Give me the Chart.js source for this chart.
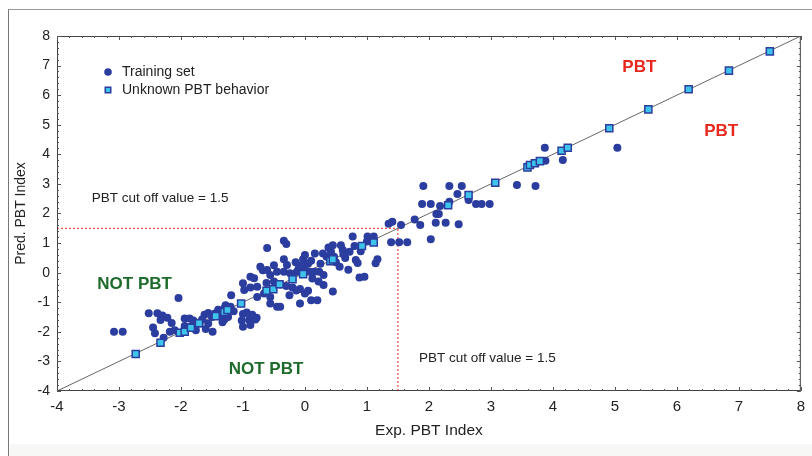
<!DOCTYPE html>
<html>
<head>
<meta charset="utf-8">
<script src="https://cdn.jsdelivr.net/npm/chart.js@4.4.1/dist/chart.umd.min.js"></script>
<style>
  html, body { margin: 0; padding: 0; background: #fff; }
  #wrap { position: relative; width: 812px; height: 456px; overflow: hidden; }
  #frame { position: absolute; left: 8px; top: 9px; right: -2px; bottom: -2px;
           border-left: 1.5px solid #777; border-top: 1.5px solid #9a9a9a; }
  #band { position: absolute; left: 10px; top: 444px; right: 0; bottom: 0; background: #f7f7f5; }
  canvas { position: absolute; left: 0; top: 0; }
</style>
</head>
<body>
<div id="wrap">
  <div id="frame"></div>
  <div id="band"></div>
  <canvas id="chart" width="812" height="456"></canvas>
</div>
<script>
// axis ticks
const xTicks = [-4, -3, -2, -1, 0, 1, 2, 3, 4, 5, 6, 7, 8];
const yTicks = [-4, -3, -2, -1, 0, 1, 2, 3, 4, 5, 6, 7, 8];
const cutoff = 1.5;

// training set (exp, pred)
const trainX = [-3.08, -2.94, -2.52, -2.38, -2.3, -2.33, -2.22, -2.45, -2.42, -2.28, -2.18, -2.1, -2.04,
  -1.94, -1.86, -1.8, -1.94, -1.84, -1.76, -1.62, -1.56, -1.5, -1.66, -1.7, -1.56, -1.49,
  -1.4, -1.45, -1.36, -1.3, -1.24, -1.33, -1.19, -1.2, -1.28, -1.0, -0.94, -0.88, -1.02, -0.9,
  -0.78, -1.0, -0.88, -0.88, -0.82, -1.0, -0.98, -0.88, -0.77, -0.77, -0.66, -0.56, -0.56,
  -0.45, -0.4, -0.61, -0.34, -0.3, -0.61, -0.56, -0.45, -0.34, -0.24, -0.13, -0.34, -0.29,
  -0.05, -0.2, -0.14, -0.08, 0.0, 0.05, -0.25, -0.08, 0.1, 0.2, 0.0, 0.07, 0.15, 0.23, 0.3,
  0.16, 0.29, 0.0, -0.03, 0.42, 0.35, 0.47, 0.45, 0.58, 0.61, 0.72, 0.56, 0.45, 0.77, 1.01,
  1.11, 0.82, 0.85, 1.17, 1.14, 0.88, 0.96, 1.35, 1.41, 1.55, 1.39, 1.52, 1.65, 1.77, 1.86,
  2.03, 1.91, 2.33, 2.53, 1.89, 2.03, 2.18, 2.33, 2.46, 2.12, 2.16, 2.11, 2.27, 2.48, 2.76,
  2.85, 2.98, 2.64, 3.42, 3.72, 3.87, 3.88, 4.16, 5.04,
  -0.72, -0.68, -0.5, -0.4, -0.3, 0.12, 0.22, 0.3, -0.85, -0.8, -1.3, -1.15, -0.5, 0.5, 0.65,
  0.9, -0.15, 0.1, 0.25, 0.7, -0.62, -2.15, -1.6, 0.62, 0.8, 1.0, 0.38, -0.1, 0.05];
const trainY = [-2.0, -2.0, -1.37, -1.37, -1.45, -1.6, -1.52, -1.85, -2.05, -2.2, -2.0, -1.95, -0.86,
  -1.55, -1.55, -1.62, -1.8, -1.82, -1.95, -1.42, -1.36, -1.5, -1.58, -1.72, -1.72, -2.0,
  -1.25, -1.38, -1.45, -1.58, -1.5, -1.68, -0.76, -1.15, -1.1, -1.4, -1.35, -1.47, -1.62, -1.6,
  -1.52, -1.83, -1.77, -0.14, -0.19, -0.36, -0.59, -0.5, -0.48, -0.82, -0.7, -0.82, -1.04,
  -1.15, -1.15, 0.83, 1.08, 0.97, 0.09, -0.08, 0.03, 0.03, -0.02, 0.03, 0.45, 0.26,
  0.26, -0.5, -0.6, -0.55, -0.7, -0.61, -0.76, -1.04, -0.93, -0.93, 0.09, 0.03, 0.03, 0.03, -0.08,
  0.65, 0.65, 0.6, 0.45, 0.71, 0.54, 0.54, 0.93, 0.93, 0.77, 0.71, 0.2, -0.64, 1.22, 1.22,
  1.22, 0.43, 0.33, 0.45, 0.32, -0.16, -0.14, 1.65, 1.72, 1.61, 1.03, 1.03, 1.03, 1.8, 1.61,
  1.13, 2.93, 2.93, 2.93, 2.32, 2.32, 2.25, 2.4, 2.66, 1.98, 1.98, 1.69, 1.69, 1.64, 2.32,
  2.32, 2.32, 2.46, 2.96, 2.93, 4.22, 3.78, 3.81, 4.22,
  0.2, 0.08, -0.3, -0.4, -0.45, -0.2, -0.3, -0.42, -1.42, -1.58, -1.2, -1.3, 0.25, 0.35, 0.5,
  0.72, 0.35, 0.4, 0.3, 0.1, -0.35, -1.7, -1.9, 0.62, 0.9, 1.05, 0.85, 0.15, 0.3];

// compounds with unknown PBT behaviour
const unknownX = [-2.73, -2.33, -2.02, -1.94, -1.84, -1.71, -1.44, -1.3, -1.25, -1.03, -0.62, -0.51,
  -0.41, -0.2, -0.03, 0.41, 0.45, 0.92, 1.11, 2.31, 2.64, 3.07, 3.59, 3.63, 3.71, 3.79, 4.14, 4.24,
  4.91, 5.54, 6.19, 6.84, 7.5];
const unknownY = [-2.75, -2.37, -2.03, -2.0, -1.86, -1.71, -1.47, -1.33, -1.26, -1.04, -0.61, -0.56,
  -0.39, -0.22, -0.05, 0.39, 0.45, 0.9, 1.02, 2.28, 2.62, 3.04, 3.56, 3.64, 3.7, 3.77, 4.12, 4.22,
  4.88, 5.52, 6.2, 6.83, 7.48];

const toPts = (xs, ys) => xs.map((x, i) => ({ x: x, y: ys[i] }));
const xMin = xTicks[0], xMax = xTicks[xTicks.length - 1];
const yMin = yTicks[0], yMax = yTicks[yTicks.length - 1];

const BLUE = "#2b3d9e";
const CYAN = "#3ec3ea";
const RED = "#e8281f";
const GREEN = "#1f6b2c";
const FONT = "'Liberation Sans', Arial, sans-serif";
const NARROW = "'Liberation Sans Narrow', 'Liberation Sans', Arial, sans-serif";

// labels placed in data coordinates
const notes = [
  { text: "PBT cut off value = 1.5", x: -3.44, y: 2.52, font: "13.5px " + FONT, color: "#222" },
  { text: "PBT cut off value = 1.5", x: 1.84, y: -2.89, font: "13.5px " + FONT, color: "#222" },
  { text: "NOT PBT", x: -3.35, y: -0.38, font: "bold 17px " + FONT, color: GREEN },
  { text: "NOT PBT", x: -1.23, y: -3.26, font: "bold 17px " + FONT, color: GREEN },
  { text: "PBT", x: 5.12, y: 6.95, font: "bold 17px " + FONT, color: RED },
  { text: "PBT", x: 6.44, y: 4.79, font: "bold 17px " + FONT, color: RED },
];

const decor = {
  id: "decor",
  afterDraw(chart) {
    const { ctx, chartArea: a, scales } = chart;
    const sx = scales.x, sy = scales.y;
    ctx.save();
    // axis box
    ctx.strokeStyle = "#444";
    ctx.lineWidth = 1;
    ctx.strokeRect(a.left + 0.5, a.top + 0.5, a.right - a.left - 1, a.bottom - a.top - 1);
    // inner ticks on all four sides
    ctx.strokeStyle = "#555";
    ctx.beginPath();
    for (let v = xMin; v <= xMax + 1e-9; v += 0.2) {
      const major = Math.abs(v - Math.round(v)) < 1e-6;
      const len = major ? 4 : 2;
      const px = Math.round(sx.getPixelForValue(v)) + 0.5;
      ctx.moveTo(px, a.bottom); ctx.lineTo(px, a.bottom - len);
      ctx.moveTo(px, a.top); ctx.lineTo(px, a.top + len);
    }
    for (let v = yMin; v <= yMax + 1e-9; v += 0.2) {
      const major = Math.abs(v - Math.round(v)) < 1e-6;
      const len = major ? 4 : 2;
      const py = Math.round(sy.getPixelForValue(v)) + 0.5;
      ctx.moveTo(a.left, py); ctx.lineTo(a.left + len, py);
      ctx.moveTo(a.right, py); ctx.lineTo(a.right - len, py);
    }
    ctx.stroke();
    // annotations
    ctx.textBaseline = "middle";
    ctx.textAlign = "left";
    notes.forEach(n => {
      ctx.font = n.font;
      ctx.fillStyle = n.color;
      ctx.fillText(n.text, sx.getPixelForValue(n.x), sy.getPixelForValue(n.y));
    });
    // legend
    ctx.font = "14px " + FONT;
    ctx.fillStyle = "#222";
    ctx.fillText("Training set", 122, 72);
    ctx.fillText("Unknown PBT behavior", 122, 90);
    ctx.fillStyle = BLUE;
    ctx.beginPath(); ctx.arc(108, 72, 3.8, 0, Math.PI * 2); ctx.fill();
    ctx.fillRect(104.5, 86.5, 7, 7);
    ctx.fillStyle = CYAN;
    ctx.fillRect(106, 88, 4, 4);
    ctx.restore();
  }
};

new Chart(document.getElementById("chart"), {
  type: "scatter",
  data: {
    datasets: [
      {
        label: "Unknown PBT behavior",
        data: toPts(unknownX, unknownY),
        pointStyle: "rect",
        pointRadius: 5,
        backgroundColor: CYAN,
        borderColor: BLUE,
        borderWidth: 1.5,
        order: 1,
      },
      {
        label: "Training set",
        data: toPts(trainX, trainY),
        pointStyle: "circle",
        pointRadius: 4,
        backgroundColor: BLUE,
        borderColor: BLUE,
        borderWidth: 0,
        order: 2,
      },
      {
        label: "y = x",
        type: "line",
        data: [{ x: xMin, y: yMin }, { x: xMax, y: yMax }],
        borderColor: "#666",
        borderWidth: 1,
        pointRadius: 0,
        order: 3,
      },
      {
        label: "cutoff h",
        type: "line",
        data: [{ x: xMin, y: cutoff }, { x: cutoff, y: cutoff }],
        borderColor: RED,
        borderWidth: 1,
        borderDash: [2, 2],
        pointRadius: 0,
        order: 4,
      },
      {
        label: "cutoff v",
        type: "line",
        data: [{ x: cutoff, y: yMin }, { x: cutoff, y: cutoff }],
        borderColor: RED,
        borderWidth: 1,
        borderDash: [2, 2],
        pointRadius: 0,
        order: 4,
      },
    ],
  },
  options: {
    responsive: false,
    animation: false,
    events: [],
    layout: { padding: { left: 0, right: 1, top: 36, bottom: 0 } },
    plugins: { legend: { display: false }, tooltip: { enabled: false } },
    scales: {
      x: {
        type: "linear",
        min: xMin, max: xMax,
        afterBuildTicks: s => { s.ticks = xTicks.map(v => ({ value: v })); },
        afterFit: s => { s.height = 65; },
        grid: { display: false, drawTicks: false },
        border: { display: false },
        ticks: { padding: 7, color: "#222", font: { family: NARROW, size: 15 } },
        title: { display: true, text: "Exp. PBT Index", color: "#222",
                 font: { family: NARROW, size: 15.5 }, padding: { top: 0, bottom: 16 } },
      },
      y: {
        type: "linear",
        min: yMin, max: yMax,
        afterBuildTicks: s => { s.ticks = yTicks.map(v => ({ value: v })); },
        afterFit: s => { s.width = 57; },
        grid: { display: false, drawTicks: false },
        border: { display: false },
        ticks: { padding: 7, color: "#222", font: { family: FONT, size: 14 } },
        title: { display: true, text: "Pred. PBT Index", color: "#222",
                 font: { family: FONT, size: 14 }, padding: { top: 13, bottom: 0 } },
      },
    },
  },
  plugins: [decor],
});
</script>
</body>
</html>
